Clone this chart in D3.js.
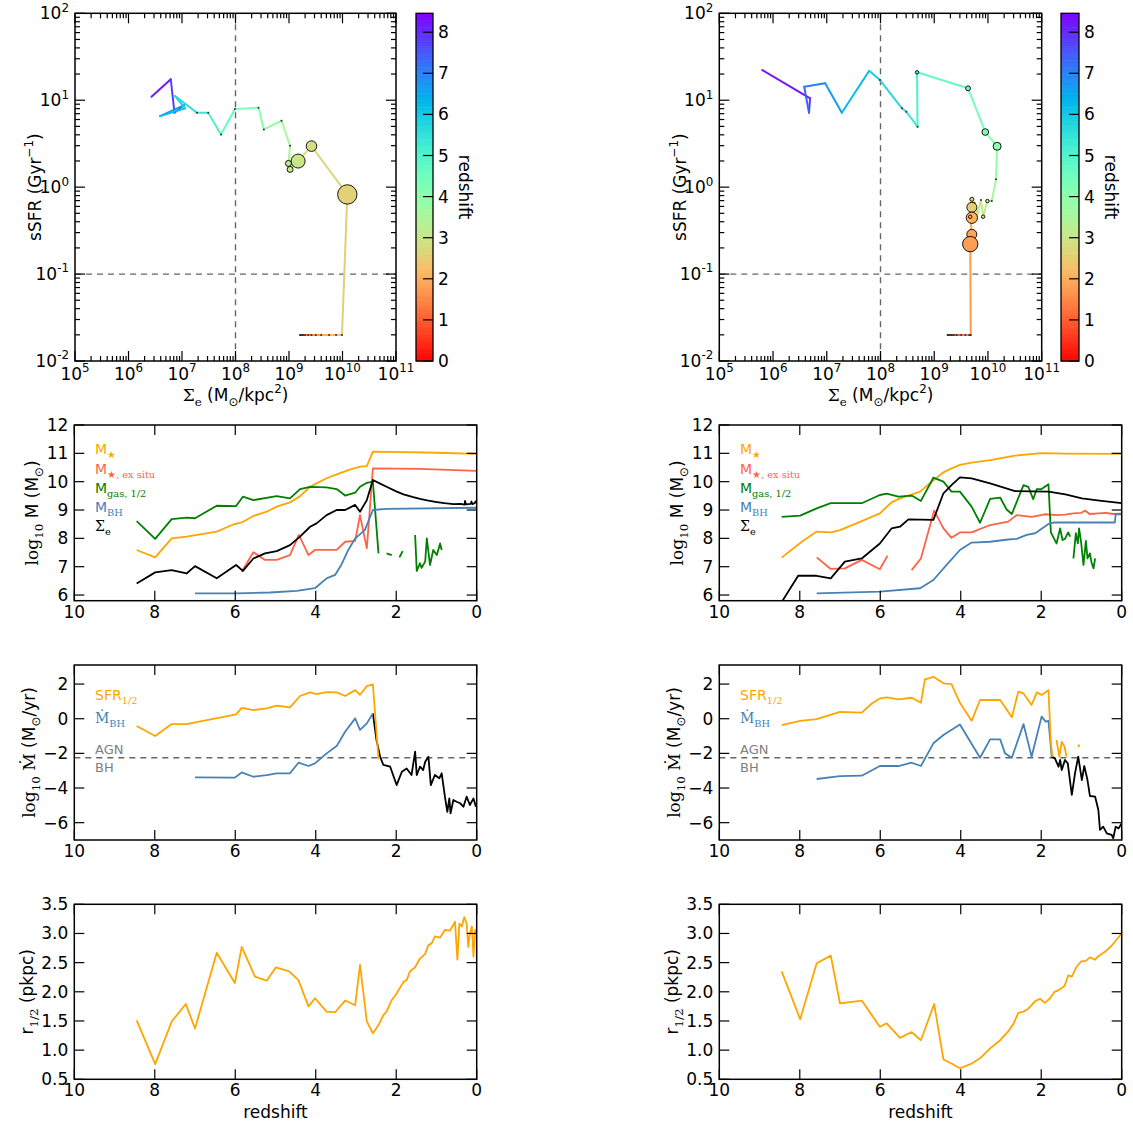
<!DOCTYPE html>
<html><head><meta charset="utf-8">
<script src="https://cdn.jsdelivr.net/npm/d3@7"></script>
<style>body{margin:0;background:#fff} text{font-family:"DejaVu Sans",sans-serif}</style>
</head><body>
<svg id="c" width="1133" height="1126"></svg>
<script>
// ---------------- DATA ----------------
const ZMAX = 8.46;
const colorbarTicks = [0,1,2,3,4,5,6,7,8];
const zTicks = [10,8,6,4,2,0];
const massTicks = [6,7,8,9,10,11,12];
const rateTicks = [-6,-4,-2,0,2];
const radiusTicks = [0.5,1.0,1.5,2.0,2.5,3.0,3.5];
const agnThreshold = -2.25;
const sigmaCut = 1e8, ssfrCut = 0.1;

// top-left trajectory: redshift, log10 Sigma_e, log10 sSFR, merger ratio (null = no marker)
const trajZ_L = [8.45,8.0,7.58,7.0,6.46,5.98,5.81,5.55,5.26,4.9,4.5,4.14,3.98,3.73,3.48,3.3,3.15,3.02,2.85,2.6,
  2.45,2.3,2.1,1.9,1.7,1.5,1.3,1.1,0.9,0.7,0.5,0.3,0.1,0];
const trajSig_L = [6.43,6.79,6.86,7.04,6.59,7.06,6.87,7.28,7.49,7.73,7.99,8.43,8.53,8.86,9.02,8.99,9.02,9.17,9.42,10.09,
  9.99,9.88,9.75,9.60,9.50,9.42,9.36,9.30,9.26,9.23,9.21,9.24,9.22,9.25];
const trajSSFR_L = [1.04,1.24,0.855,0.944,0.817,0.906,1.048,0.856,0.856,0.607,0.898,0.913,0.664,0.764,0.476,0.273,0.204,0.300,0.472,-0.084,
  -1.70,-1.70,-1.70,-1.70,-1.70,-1.70,-1.70,-1.70,-1.70,-1.70,-1.70,-1.70,-1.70,-1.70];
const trajMerge_L = [null,null,null,null,null,null,null,0,0,0,0,0,0,0,0,0.09,0.09,0.49,0.28,0.94,
  0,0,0,0,0,0,0,0,0,0,0,0,0,0];

// top-right trajectory
const trajZ_R = [8.45,8.04,7.58,7.23,6.88,6.46,6.01,5.85,5.6,5.5,5.3,4.9,4.5,4.23,4.02,3.73,3.45,3.27,3.15,3.0,2.95,2.85,2.75,2.55,2.1,2.0,1.9,1.8,1.7,
  1.6,1.4,1.2,1.0,0.8,0.6,0.4,0.2,0];
const trajSig_R = [5.80,6.69,6.67,6.58,6.97,7.28,7.79,7.99,8.40,8.48,8.69,8.68,9.63,9.95,10.17,10.15,10.07,9.99,9.91,9.87,9.80,9.75,9.70,9.70,9.70,9.67,9.70,9.67,9.68,
  9.65,9.58,9.50,9.42,9.37,9.33,9.30,9.27,9.25];
const trajSSFR_R = [1.347,1.022,0.856,1.155,1.194,0.856,1.339,1.232,0.907,0.868,0.695,1.321,1.137,0.634,0.470,0.090,-0.160,-0.160,-0.340,-0.148,-0.321,-0.183,-0.140,-0.232,-0.352,-0.341,-0.543,-0.655,-1.70,
  -1.70,-1.70,-1.70,-1.70,-1.70,-1.70,-1.70,-1.70,-1.70];
const trajMerge_R = [null,null,null,null,null,null,null,0,0,0,0,0.03,0.06,0.11,0.16,0,0,0.03,0.03,0,null,0,0.04,0.25,0.32,0.03,0.25,0.59,0,
  0,0,0,0,0,0,0,0,0];

// row 2 (log10 masses) : [redshift, value]
const mstarL = [[8.45,7.59],[7.99,7.33],[7.58,8.0],[7.21,8.06],[6.46,8.24],[6.05,8.49],[5.84,8.56],[5.55,8.79],[5.22,8.94],[4.97,9.12],[4.64,9.27],[4.39,9.49],[4.14,9.82],[3.98,9.94],[3.73,10.12],[3.48,10.26],[3.19,10.41],[2.90,10.53],[2.73,10.55],[2.58,11.06],[1.82,11.04],[0.99,11.02],[0,10.98]];
const exsituL = [[5.84,6.82],[5.55,7.51],[5.26,7.24],[4.97,7.24],[4.64,7.41],[4.42,8.12],[4.18,7.41],[4.02,7.59],[3.48,7.59],[3.27,7.88],[3.02,7.91],[2.90,8.82],[2.73,7.65],[2.58,10.47],[1.41,10.45],[0,10.38]];
const gasL = [[8.45,8.61],[7.99,7.98],[7.58,8.68],[7.21,8.73],[7.0,8.71],[6.46,9.15],[5.98,9.14],[5.81,9.47],[5.55,9.35],[4.97,9.49],[4.64,9.41],[4.39,9.74],[4.14,9.82],[3.73,9.8],[3.48,9.74],[3.27,9.51],[3.02,9.61],[2.90,9.82],[2.73,9.96],[2.58,10.0],[2.44,7.47],null,[2.24,7.47],[2.11,7.41],null,[1.92,7.33],[1.84,7.55],null,[1.53,8.12],[1.49,6.85],[1.41,7.12],[1.37,6.96],[1.28,7.18],[1.24,8.0],[1.16,7.06],[1.08,7.59],[0.99,7.41],[0.91,7.82],[0.87,7.59]];
const mbhL = [[7.0,6.06],[5.97,6.06],[5.14,6.09],[4.47,6.15],[4.02,6.24],[3.73,6.59],[3.52,6.71],[3.36,7.08],[3.19,7.59],[3.02,8.0],[2.78,8.29],[2.58,9.0],[2.24,9.04],[0,9.08]];
const sigmaL = [[8.45,6.41],[7.99,6.80],[7.58,6.88],[7.21,6.76],[7.0,7.02],[6.46,6.59],[5.98,7.06],[5.81,6.85],[5.55,7.29],[5.26,7.47],[4.97,7.55],[4.64,7.76],[4.39,8.06],[4.14,8.41],[3.98,8.53],[3.73,8.82],[3.48,9.0],[3.27,9.0],[3.02,9.18],[2.90,8.94],[2.73,9.35],[2.58,10.06],[2.4,9.93],[2.24,9.82],[2.0,9.66],[1.82,9.55],[1.6,9.46],[1.41,9.39],[1.2,9.33],[0.99,9.28],[0.8,9.24],[0.58,9.21],[0.4,9.22],[0.3,9.19],[0.29,9.32],[0.27,9.2],[0.15,9.22],[0.13,9.3],[0.11,9.21],[0.05,9.24],[0.03,9.3],[0,9.25]];

const mstarR = [[8.45,7.32],[7.95,7.88],[7.58,8.24],[7.23,8.21],[7.0,8.29],[6.46,8.61],[6.01,8.88],[5.72,9.27],[5.51,9.41],[5.30,9.51],[5.01,9.65],[4.72,10.0],[4.43,10.33],[4.23,10.47],[4.02,10.59],[3.73,10.67],[3.27,10.76],[2.65,10.92],[1.99,11.01],[1.41,10.99],[0,10.98]];
const exsituR = [[7.58,7.33],[7.23,6.92],[6.88,6.94],[6.46,7.24],[6.01,6.91],[5.82,7.39],null,[5.22,6.88],[4.99,7.29],[4.66,8.98],[4.43,8.35],[4.23,8.02],[4.02,8.21],[3.73,8.21],[3.27,8.47],[2.82,8.59],[2.61,8.82],[2.24,8.76],[1.91,8.85],[1.6,8.82],[1.41,8.84],[1.2,8.88],[1.0,8.9],[0.91,8.98],[0.8,8.86],[0.58,8.88],[0.4,8.9],[0.2,8.86],[0,8.87]];
const gasR = [[8.45,8.76],[7.99,8.8],[7.58,9.06],[7.23,9.24],[6.46,9.24],[6.01,9.53],[5.84,9.58],[5.55,9.47],[5.22,9.51],[4.99,9.32],[4.68,10.14],[4.43,10.0],[4.23,9.65],[4.02,9.65],[3.73,9.12],[3.52,8.55],[3.27,9.39],[3.02,9.44],[2.86,9.02],[2.73,8.86],[2.44,9.88],[2.32,9.82],[2.20,9.38],[2.11,9.74],[1.99,9.74],[1.82,9.91],[1.76,8.21],[1.62,7.82],[1.53,8.35],[1.47,7.94],[1.41,7.98],[1.33,8.21],[1.28,8.06],null,[1.20,7.29],[1.14,8.18],[1.09,7.82],[1.06,8.35],[1.01,7.88],[0.95,7.06],[0.89,7.91],[0.85,7.29],[0.79,7.47],[0.75,7.15],[0.70,6.94],[0.66,7.29]];
const mbhR = [[7.58,6.06],[6.01,6.12],[5.01,6.24],[4.68,6.53],[4.39,7.0],[4.02,7.59],[3.73,7.85],[3.27,7.88],[2.82,7.96],[2.61,7.98],[2.36,8.12],[2.15,8.18],[1.82,8.51],[1.66,8.56],[0.17,8.56],[0.15,8.85],[0,8.85]];
const sigmaR = [[8.45,5.75],[8.04,6.68],[7.58,6.68],[7.23,6.59],[6.88,7.18],[6.46,7.29],[6.01,7.82],[5.72,8.35],[5.51,8.41],[5.30,8.67],[4.68,8.65],[4.43,9.59],[4.23,9.88],[4.02,10.15],[3.73,10.12],[3.27,9.94],[2.65,9.67],[1.82,9.65],[1.4,9.55],[0.99,9.41],[0.5,9.32],[0,9.24]];

// row 3 (log10 rates)
const sfrL = [[8.45,-0.42],[7.99,-1.0],[7.58,-0.31],[7.21,-0.31],[5.98,0.25],[5.84,0.63],[5.55,0.5],[5.22,0.6],[4.97,0.75],[4.64,0.65],[4.39,1.31],[4.14,1.52],[3.98,1.42],[3.73,1.54],[3.48,1.52],[3.27,1.31],[3.02,1.65],[2.90,1.38],[2.73,1.88],[2.58,1.98],[2.44,-2.35]];
const bhdotL = [[7.0,-3.38],[6.01,-3.40],[5.84,-3.10],[5.55,-3.35],[5.22,-3.25],[4.97,-3.15],[4.64,-3.15],[4.43,-2.54],[4.18,-2.73],[4.02,-2.58],[3.73,-2.0],[3.48,-1.58],[3.27,-0.75],[3.02,0.02],[2.90,-0.65],[2.73,-0.27],[2.58,0.31]];
const bhdotLowL = [[2.58,0.31],[2.49,-1.23],[2.40,-2.19],[2.32,-2.67],[2.15,-2.77],[1.99,-3.83],[1.86,-3.06],[1.74,-2.87],[1.62,-3.25],[1.53,-1.9],[1.49,-3.25],[1.41,-2.77],[1.33,-2.96],[1.28,-2.48],[1.20,-2.19],[1.14,-3.83],[1.04,-3.25],[0.93,-3.44],[0.87,-3.15],[0.79,-4.5],[0.73,-5.37],[0.68,-4.6],[0.65,-5.46],[0.58,-4.69],[0.50,-4.79],[0.41,-4.88],[0.33,-5.08],[0.25,-4.5],[0.17,-4.98],[0.08,-4.6],[0.02,-5.08]];
const sfrR = [[8.45,-0.37],[7.99,-0.13],[7.58,-0.02],[7.0,0.40],[6.46,0.35],[6.21,0.88],[6.01,1.17],[5.84,1.23],[5.55,1.12],[5.22,1.21],[4.99,0.92],[4.89,2.27],[4.68,2.42],[4.43,2.04],[4.23,2.0],[4.02,0.92],[3.73,-0.12],[3.52,1.08],[3.02,1.08],[2.73,0.08],[2.57,1.56],[2.44,1.46],[2.24,0.79],[2.11,1.52],[1.99,1.37],[1.82,1.65],[1.76,-1.42],[1.72,-2.19],null,[1.62,-1.23],[1.55,-2.19],[1.49,-1.33],[1.42,-1.62],[1.37,-2.19],null,[1.09,-1.62],[1.04,-1.52]];
const bhdotR = [[7.58,-3.48],[7.0,-3.31],[6.46,-3.29],[6.01,-2.73],[5.55,-2.73],[5.22,-2.54],[4.99,-2.73],[4.68,-1.42],[4.43,-0.94],[4.02,-0.33],[3.52,-2.25],[3.27,-1.19],[3.02,-1.19],[2.90,-2.0],[2.73,-2.25],[2.44,-0.31],[2.24,-2.19],[1.99,0.12],[1.89,-0.17],[1.82,-0.12],[1.74,-2.19]];
const bhdotLowR = [[1.74,-2.19],[1.66,-2.29],[1.57,-2.77],[1.53,-2.38],[1.49,-2.96],[1.41,-2.38],[1.34,-2.58],[1.24,-4.4],[1.16,-3.15],[1.08,-2.19],[0.99,-3.54],[0.93,-2.73],[0.85,-3.54],[0.79,-4.46],[0.66,-4.5],[0.58,-5.27],[0.54,-6.42],[0.46,-6.23],[0.37,-6.62],[0.25,-6.71],[0.21,-6.9],[0.15,-6.23],[0.08,-6.33],[0,-6.04]];

// row 4 (half-mass radius)
const rhalfL = [[8.45,1.51],[7.99,0.76],[7.58,1.49],[7.23,1.79],[7.0,1.37],[6.46,2.67],[6.01,2.15],[5.84,2.77],[5.51,2.26],[5.22,2.19],[4.99,2.42],[4.66,2.35],[4.43,2.20],[4.18,1.75],[4.02,1.89],[3.73,1.66],[3.52,1.65],[3.27,1.85],[3.02,1.77],[2.90,2.46],[2.73,1.49],[2.58,1.29],[2.44,1.43],[2.32,1.60],[2.24,1.66],[2.11,1.86],[1.99,1.97],[1.82,2.17],[1.74,2.20],[1.66,2.35],[1.53,2.42],[1.41,2.57],[1.28,2.65],[1.20,2.80],[1.12,2.83],[1.04,2.95],[0.91,2.93],[0.79,3.06],[0.66,3.05],[0.58,3.15],[0.54,3.20],[0.48,2.55],[0.43,3.17],[0.37,3.12],[0.31,3.28],[0.25,3.17],[0.21,2.77],[0.17,3.0],[0.12,3.12],[0.08,2.60],[0.04,3.06],[0,3.01]];
const rhalfR = [[8.45,2.35],[7.99,1.53],[7.58,2.49],[7.23,2.62],[7.0,1.80],[6.46,1.85],[6.01,1.40],[5.84,1.46],[5.51,1.21],[5.22,1.31],[4.99,1.17],[4.66,1.79],[4.43,0.84],[4.23,0.77],[4.02,0.69],[3.73,0.77],[3.52,0.86],[3.27,1.03],[3.02,1.17],[2.82,1.32],[2.69,1.45],[2.57,1.64],[2.44,1.66],[2.32,1.71],[2.15,1.84],[2.03,1.88],[1.91,1.81],[1.78,1.89],[1.67,2.00],[1.57,2.03],[1.42,2.10],[1.33,2.28],[1.24,2.26],[1.12,2.43],[1.01,2.52],[0.89,2.53],[0.79,2.59],[0.66,2.55],[0.58,2.61],[0.41,2.69],[0.25,2.79],[0.12,2.90],[0,3.0]];

// ---------------- DRAWING ----------------
const svg = d3.select('#c');
svg.append('rect').attr('width',1133).attr('height',1126).attr('fill','#fff');
const defs = svg.append('defs');
const C = {orange:'#FFA500', red:'#FF6347', green:'#008000', blue:'#4682B4', black:'#000', grey:'#808080'};
const SERIF = '"DejaVu Serif",serif';

function zColor(z){
  const x = Math.max(0, Math.min(1, 1 - z/ZMAX));
  const r = Math.min(1, Math.abs(2*x - 0.5)), g = Math.max(0, Math.sin(Math.PI*x)), b = Math.max(0, Math.cos(Math.PI*x/2));
  return d3.rgb(r*255, g*255, b*255).formatHex();
}

function rich(sel, parts, base){
  let prev = 0;
  parts.forEach(p => {
    const [t, mode, fam] = p;
    const shift = mode==='sub' ? base*0.32 : mode==='sup' ? -base*0.45 : 0;
    const ts = sel.append('tspan').text(t).attr('dy', shift - prev);
    if (mode) ts.attr('font-size', base*0.7);
    if (fam) ts.attr('font-family', fam);
    prev = shift;
  });
  return sel;
}

const TT = 13.3, TB = 361;

function topPanel(x0, x1, cbx0, cbx1, zs, lsig, lssfr, merge, ylabX){
  const g = svg.append('g');
  const X = d3.scaleLog().domain([1e5,1e11]).range([x0,x1]);
  const Y = d3.scaleLog().domain([1e-2,1e2]).range([TB,TT]);
  const dash = {stroke:'#666','stroke-width':1.4,'stroke-dasharray':'6,5'};
  const l1 = g.append('line').attr('x1',X(sigmaCut)).attr('x2',X(sigmaCut)).attr('y1',TT).attr('y2',TB);
  const l2 = g.append('line').attr('x1',x0).attr('x2',x1).attr('y1',Y(ssfrCut)).attr('y2',Y(ssfrCut));
  [l1,l2].forEach(l=>Object.entries(dash).forEach(([k,v])=>l.attr(k,v)));

  const pts = zs.map((z,i)=>({z, x:X(Math.pow(10,lsig[i])), y:Y(Math.pow(10,lssfr[i])), m:merge[i]}));
  g.selectAll('line.seg').data(d3.pairs(pts)).join('line').attr('class','seg')
    .attr('x1',d=>d[0].x).attr('y1',d=>d[0].y).attr('x2',d=>d[1].x).attr('y2',d=>d[1].y)
    .attr('stroke',d=>zColor((d[0].z+d[1].z)/2)).attr('stroke-width',2).attr('stroke-linecap','round');
  const rS = d3.scaleSqrt().domain([0,1]).range([0,10]);
  g.selectAll('circle.mk').data(pts.filter(p=>p.m!==null)).join('circle').attr('class','mk')
    .attr('cx',d=>d.x).attr('cy',d=>d.y)
    .attr('r',d=>d.m===0?1.0:rS(d.m))
    .attr('fill',d=>d.m===0?'#333':zColor(d.z)).attr('stroke',d=>d.m===0?'none':'#000').attr('stroke-width',0.9);

  // frame
  g.append('rect').attr('x',x0).attr('y',TT).attr('width',x1-x0).attr('height',TB-TT).attr('fill','none').attr('stroke','#000').attr('stroke-width',1.5);
  const tk = g.append('g').attr('stroke','#000').attr('stroke-width',1.2);
  const minorsX = [], minorsY = [];
  for (let e=5;e<11;e++) for (let m=2;m<10;m++) minorsX.push(m*Math.pow(10,e));
  for (let e=-2;e<2;e++) for (let m=2;m<10;m++) minorsY.push(m*Math.pow(10,e));
  const majX = d3.range(5,12).map(e=>Math.pow(10,e)), majY = d3.range(-2,3).map(e=>Math.pow(10,e));
  [[majX,10],[minorsX,5]].forEach(([arr,len])=>arr.forEach(v=>{
    tk.append('line').attr('x1',X(v)).attr('x2',X(v)).attr('y1',TB).attr('y2',TB-len);
    tk.append('line').attr('x1',X(v)).attr('x2',X(v)).attr('y1',TT).attr('y2',TT+len);
  }));
  [[majY,10],[minorsY,5]].forEach(([arr,len])=>arr.forEach(v=>{
    tk.append('line').attr('y1',Y(v)).attr('y2',Y(v)).attr('x1',x0).attr('x2',x0+len);
    tk.append('line').attr('y1',Y(v)).attr('y2',Y(v)).attr('x1',x1).attr('x2',x1-len);
  }));
  d3.range(5,12).forEach(e=>{
    rich(g.append('text').attr('x',X(Math.pow(10,e))).attr('y',TB+19).attr('text-anchor','middle').attr('font-size',17),[['10'],[String(e),'sup']],17);
  });
  d3.range(-2,3).forEach(e=>{
    rich(g.append('text').attr('x',x0-6).attr('y',Y(Math.pow(10,e))+6).attr('text-anchor','end').attr('font-size',17),[['10'],[String(e),'sup']],17);
  });
  rich(g.append('text').attr('x',(x0+x1)/2).attr('y',401).attr('text-anchor','middle').attr('font-size',17),
    [['Σ',null,SERIF],['e','sub',SERIF],['  (M'],['⊙','sub'],['/kpc'],['2','sup'],[')']],17);
  rich(g.append('text').attr('transform',`translate(${ylabX},${(TT+TB)/2}) rotate(-90)`).attr('text-anchor','middle').attr('font-size',17),
    [['sSFR (Gyr'],['−1','sup'],[')']],17);

  // colorbar
  const CY = d3.scaleLinear().domain([0,ZMAX]).range([TB,TT]);
  const n = 200, step = ZMAX/n;
  g.selectAll('rect.cb').data(d3.range(n)).join('rect').attr('class','cb')
    .attr('x',cbx0).attr('width',cbx1-cbx0)
    .attr('y',i=>CY((i+1)*step)).attr('height',i=>CY(i*step)-CY((i+1)*step)+0.6)
    .attr('fill',i=>zColor((i+0.5)*step));
  g.append('rect').attr('x',cbx0).attr('y',TT).attr('width',cbx1-cbx0).attr('height',TB-TT).attr('fill','none').attr('stroke','#000').attr('stroke-width',1.3);
  colorbarTicks.forEach(v=>{
    g.append('line').attr('x1',cbx1).attr('x2',cbx1-10).attr('y1',CY(v)).attr('y2',CY(v)).attr('stroke','#000').attr('stroke-width',1.2);
    g.append('text').attr('x',cbx1+5).attr('y',CY(v)+6).attr('font-size',17).text(v);
  });
  g.append('text').attr('transform',`translate(${cbx1+26},${(TT+TB)/2}) rotate(90)`).attr('text-anchor','middle').attr('font-size',17).text('redshift');
}

topPanel(75, 396, 416, 433, trajZ_L, trajSig_L, trajSSFR_L, trajMerge_L, 41);
topPanel(719.3, 1041.7, 1061, 1079, trajZ_R, trajSig_R, trajSSFR_R, trajMerge_R, 686);

let clipN = 0;
function linePanel(cfg){
  const {x0,x1,yT,yB,dom,yticks,yfmt,series,dashY} = cfg;
  const X = d3.scaleLinear().domain([10,0]).range([x0,x1]);
  const Y = d3.scaleLinear().domain(dom).range([yB,yT]);
  const id = 'clp'+(clipN++);
  defs.append('clipPath').attr('id',id).append('rect').attr('x',x0).attr('y',yT).attr('width',x1-x0).attr('height',yB-yT);
  const g = svg.append('g');
  if (dashY!=null) g.append('line').attr('x1',x0).attr('x2',x1).attr('y1',Y(dashY)).attr('y2',Y(dashY))
    .attr('stroke','#666').attr('stroke-width',1.4).attr('stroke-dasharray','6,5');
  const line = d3.line().defined(d=>d!==null).x(d=>X(d[0])).y(d=>Y(d[1]));
  series.forEach(s=>g.append('path').attr('d',line(s.data)).attr('fill','none').attr('stroke',s.color)
    .attr('stroke-width',1.8).attr('stroke-linejoin','round').attr('clip-path',`url(#${id})`));
  g.append('rect').attr('x',x0).attr('y',yT).attr('width',x1-x0).attr('height',yB-yT).attr('fill','none').attr('stroke','#000').attr('stroke-width',1.5);
  const tk = g.append('g').attr('stroke','#000').attr('stroke-width',1.2);
  zTicks.forEach(v=>{
    tk.append('line').attr('x1',X(v)).attr('x2',X(v)).attr('y1',yB).attr('y2',yB-10);
    tk.append('line').attr('x1',X(v)).attr('x2',X(v)).attr('y1',yT).attr('y2',yT+10);
    g.append('text').attr('x',X(v)).attr('y',yB+17).attr('text-anchor','middle').attr('font-size',17).text(v);
  });
  yticks.forEach(v=>{
    tk.append('line').attr('y1',Y(v)).attr('y2',Y(v)).attr('x1',x0).attr('x2',x0+10);
    tk.append('line').attr('y1',Y(v)).attr('y2',Y(v)).attr('x1',x1).attr('x2',x1-10);
    g.append('text').attr('x',x0-6).attr('y',Y(v)+6).attr('text-anchor','end').attr('font-size',17).text(yfmt(v));
  });
  return g;
}

const fmtInt = v => String(v).replace('-','−');
const fmt1 = d3.format('.1f');
[[74.3,476.7,0],[719.3,1121.7,645]].forEach(([x0,x1,off],col)=>{
  const L = col===0;
  // row 2
  let g = linePanel({x0,x1,yT:425,yB:600.7,dom:[5.8,12],yticks:massTicks,yfmt:fmtInt,series:[
    {data:L?mstarL:mstarR,color:C.orange},{data:L?exsituL:exsituR,color:C.red},{data:L?gasL:gasR,color:C.green},
    {data:L?mbhL:mbhR,color:C.blue},{data:L?sigmaL:sigmaR,color:C.black}]});
  const lx = 95+off;
  rich(g.append('text').attr('x',lx).attr('y',454).attr('font-size',14).attr('fill',C.orange),[['M'],['★','sub']],14);
  rich(g.append('text').attr('x',lx).attr('y',473.5).attr('font-size',14).attr('fill',C.red),[['M'],['★, ex situ','sub',SERIF]],14);
  rich(g.append('text').attr('x',lx).attr('y',492.5).attr('font-size',14).attr('fill',C.green),[['M'],['gas, 1/2','sub',SERIF]],14);
  rich(g.append('text').attr('x',lx).attr('y',511.5).attr('font-size',14).attr('fill',C.blue),[['M'],['BH','sub',SERIF]],14);
  rich(g.append('text').attr('x',lx).attr('y',530.5).attr('font-size',14).attr('fill','#000'),[['Σ',null,SERIF],['e','sub',SERIF]],14);
  rich(g.append('text').attr('transform',`translate(${38+off},${(425+600.7)/2}) rotate(-90)`).attr('text-anchor','middle').attr('font-size',17),
    [['log',null,SERIF],['10','sub',SERIF],[' M (M'],['⊙','sub'],[')']],17);
  // row 3
  g = linePanel({x0,x1,yT:665,yB:840,dom:[-7,3.1],yticks:rateTicks,yfmt:fmtInt,dashY:agnThreshold,series:[
    {data:L?bhdotLowL:bhdotLowR,color:C.black},{data:L?bhdotL:bhdotR,color:C.blue},{data:L?sfrL:sfrR,color:C.orange}]});
  rich(g.append('text').attr('x',lx).attr('y',700).attr('font-size',14).attr('fill',C.orange),[['SFR'],['1/2','sub',SERIF]],14);
  rich(g.append('text').attr('x',lx).attr('y',723).attr('font-size',14).attr('fill',C.blue),[['Ṁ',null,SERIF],['BH','sub',SERIF]],14);
  g.append('text').attr('x',lx).attr('y',754).attr('font-size',13).attr('fill',C.grey).text('AGN');
  g.append('text').attr('x',lx).attr('y',772).attr('font-size',13).attr('fill',C.grey).text('BH');
  rich(g.append('text').attr('transform',`translate(${35+off},${(665+840)/2}) rotate(-90)`).attr('text-anchor','middle').attr('font-size',17),
    [['log',null,SERIF],['10','sub',SERIF],[' Ṁ',null,SERIF],[' (M'],['⊙','sub'],['/yr)']],17);
  // row 4
  g = linePanel({x0,x1,yT:904.3,yB:1079.3,dom:[0.5,3.5],yticks:radiusTicks,yfmt:fmt1,series:[{data:L?rhalfL:rhalfR,color:C.orange}]});
  rich(g.append('text').attr('transform',`translate(${33+off},${(904.3+1079.3)/2}) rotate(-90)`).attr('text-anchor','middle').attr('font-size',17),
    [['r'],['1/2','sub',SERIF],[' (pkpc)']],17);
  g.append('text').attr('x',(x0+x1)/2).attr('y',1118).attr('text-anchor','middle').attr('font-size',17).text('redshift');
});
</script>
</body></html>
